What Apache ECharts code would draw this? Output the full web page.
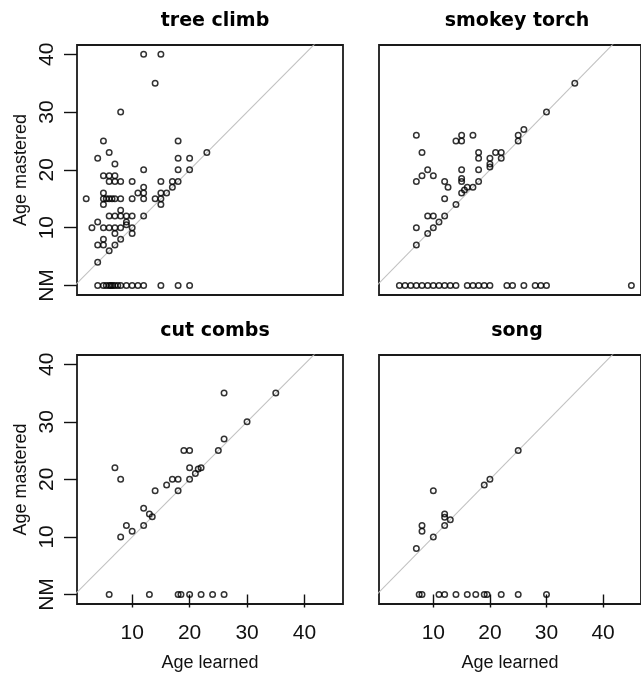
<!DOCTYPE html>
<html><head><meta charset="utf-8">
<script src="https://cdn.jsdelivr.net/npm/echarts@6/dist/echarts.min.js"></script>
<style>html,body{margin:0;padding:0;background:#fff}#c{width:641px;height:673px}</style>
</head><body><div id="c"></div>
<script>
// ---- data (age learned = x, age mastered = y; NM plotted at 0) ----
const panelTitles = ['tree climb', 'smokey torch', 'cut combs', 'song'];

const treeClimbLearned  = [12,15,14,8,5,18,4,6,18,20,23,7,12,18,20,
  5,6,7, 6,7,8,10,15,17,18, 12,17, 5,11,12,15,16,
  2,5,5.5,6,6.5,7,8,10,12,14,15, 5,15, 8, 6,7,8,9,10,12, 4,9,
  3,5,6,7,8,9,10, 7,10, 5,8, 4,5,7, 6, 4,
  4,5,5.5,6,6.3,6.6,7,7.5,8,9,10,11,12,15,18,20];
const treeClimbMastered = [40,40,35,30,25,25,22,23,22,22,23,21,20,20,20,
  19,19,19, 18,18,18,18,18,18,18, 17,17, 16,16,16,16,16,
  15,15,15,15,15,15,15,15,15,15,15, 14,14, 13, 12,12,12,12,12,12, 11,11,
  10,10,10,10,10,10.5,10, 9,9, 8,8, 7,7,7, 6, 4,
  0,0,0,0,0,0,0,0,0,0,0,0,0,0,0,0];

const smokeyTorchLearned  = [35,30,26,25,25,7,14,15,15,17,8,18,18,21,22,22,20,20,20,18,15,9,8,10,7,12,12.6,15,15,18,
  15,15.5,16,17,12,14,9,10,12,9,10,11,7,7,
  4,5,6,7,8,9,10,11,12,13,14,16,17,18,19,20,23,24,26,28,29,30,45];
const smokeyTorchMastered = [35,30,27,26,25,26,25,25,26,26,23,23,22,23,23,22,22,21,20.5,20,20,20,19,19,18,18,17,18.5,18,18,
  16,16.5,17,17,15,14,12,12,12,9,10,11,10,7,
  0,0,0,0,0,0,0,0,0,0,0,0,0,0,0,0,0,0,0,0,0,0,0];

const cutCombsLearned  = [26,35,30,26,25,19,20,7,20,22,21.5,21,8,17,18,20,16,18,14,12,13,13.5,12,9,10,8,
  6,13,18,18.5,20,22,24,26];
const cutCombsMastered = [35,35,30,27,25,25,25,22,22,22,21.8,21,20,20,20,20,19,18,18,15,14,13.5,12,12,11,10,
  0,0,0,0,0,0,0,0];

const songLearned  = [25,19,20,10,12,12,13,12,8,8,10,7,
  7.5,8,11,12,14,16,17.5,19,19.5,22,25,30];
const songMastered = [25,19,20,18,14,13.4,13,12,12,11,10,8,
  0,0,0,0,0,0,0,0,0,0,0,0];

const yTickValues = [0, 10, 20, 30, 40];
const yTickLabels = ['NM', '10', '20', '30', '40'];
const xTickValues = [10, 20, 30, 40];
const identityLine = [-5, 50];   // y = x reference line
const xRange = [0.4, 46.7];
const yRange = [-1.65, 41.6];

// ---- build ----
const panels = [
  [treeClimbLearned, treeClimbMastered],
  [smokeyTorchLearned, smokeyTorchMastered],
  [cutCombsLearned, cutCombsMastered],
  [songLearned, songMastered]
];
const gridBoxes = [
  {left: 77, top: 45, width: 266, height: 250},
  {left: 379, top: 45, width: 266, height: 250},
  {left: 77, top: 355, width: 266, height: 249},
  {left: 379, top: 355, width: 266, height: 249}
];
const ink = '#111';
const tickFont = "'Liberation Sans Narrow', 'Liberation Sans', Arial, sans-serif";
const nameFont = "'Liberation Sans', Arial, sans-serif";

const option = {
  animation: false,
  backgroundColor: '#fff',
  title: panelTitles.map((t, i) => ({
    text: t,
    left: gridBoxes[i].left + gridBoxes[i].width / 2,
    top: gridBoxes[i].top - 38,
    textAlign: 'center',
    textStyle: {fontFamily: "'DejaVu Sans', sans-serif", fontWeight: 'bold', fontSize: 19, color: '#000'}
  })),
  grid: gridBoxes.map(g => Object.assign({show: true, borderColor: '#1a1a1a', borderWidth: 1.8, backgroundColor: 'transparent'}, g)),
  xAxis: gridBoxes.map((g, i) => {
    const bottomRow = i >= 2;
    return {
      type: 'value', gridIndex: i, min: xRange[0], max: xRange[1],
      splitLine: {show: false},
      axisLine: {show: false},
      axisTick: {show: bottomRow, customValues: xTickValues, length: 13, lineStyle: {color: ink, width: 1.4}},
      axisLabel: {show: bottomRow, customValues: xTickValues, margin: 19, color: ink, fontSize: 21, fontFamily: tickFont},
      name: bottomRow ? 'Age learned' : '',
      nameLocation: 'middle', nameGap: 50,
      nameTextStyle: {fontSize: 18, color: ink, fontFamily: nameFont}
    };
  }),
  yAxis: gridBoxes.map((g, i) => {
    const leftCol = i % 2 === 0;
    return {
      type: 'value', gridIndex: i, min: yRange[0], max: yRange[1],
      splitLine: {show: false},
      axisLine: {show: false},
      axisTick: {show: leftCol, customValues: yTickValues, length: 13, lineStyle: {color: ink, width: 1.4}},
      axisLabel: {show: leftCol, customValues: yTickValues, rotate: 90, margin: 19, color: ink, fontSize: 21, fontFamily: tickFont,
        formatter: v => yTickLabels[yTickValues.indexOf(v)]},
      name: leftCol ? 'Age mastered' : '',
      nameLocation: 'middle', nameGap: 47,
      nameTextStyle: {fontSize: 18, color: ink, fontFamily: nameFont}
    };
  }),
  series: []
};

panels.forEach((p, i) => {
  option.series.push({
    type: 'line', xAxisIndex: i, yAxisIndex: i, silent: true, clip: true,
    symbol: 'none', z: 1,
    lineStyle: {color: '#c2c2c2', width: 1.1},
    data: identityLine.map(v => [v, v])
  });
  option.series.push({
    type: 'scatter', xAxisIndex: i, yAxisIndex: i, z: 2,
    symbol: 'circle', symbolSize: 5.5,
    itemStyle: {color: 'rgba(0,0,0,0)', borderColor: '#000', borderWidth: 1.5},
    data: p[0].map((x, k) => [x, p[1][k]])
  });
});

const chart = echarts.init(document.getElementById('c'), null, {renderer: 'canvas'});
chart.setOption(option);
</script></body></html>
